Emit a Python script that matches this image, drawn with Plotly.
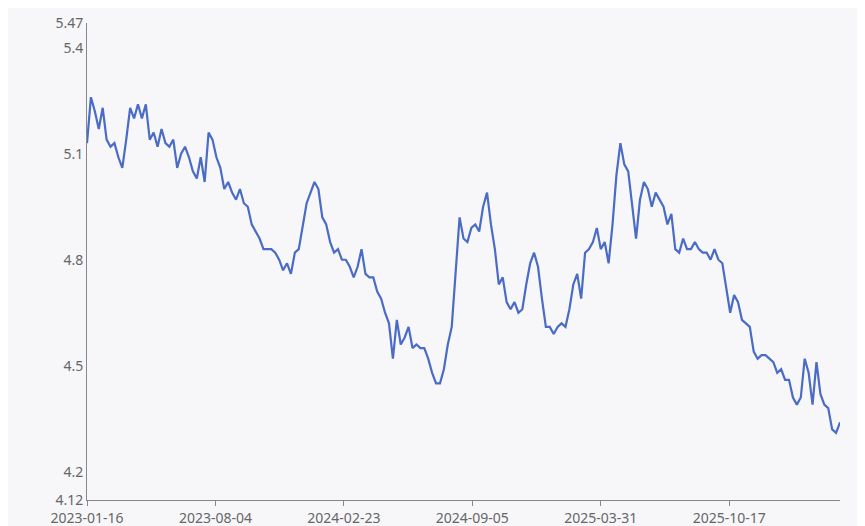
import plotly.graph_objects as go

tick_labels = ["2023-01-16", "2023-08-04", "2024-02-23", "2024-09-05", "2025-03-31", "2025-10-17"]
tick_index = [0, 32.75, 65.5, 98.25, 131, 163.75]
y_ticks = [4.12, 4.2, 4.5, 4.8, 5.1, 5.4, 5.47]

values = [
    5.13, 5.26, 5.22, 5.17, 5.23, 5.14, 5.12, 5.13, 5.09, 5.06,
    5.14, 5.23, 5.20, 5.24, 5.20, 5.24, 5.14, 5.16, 5.12, 5.17,
    5.13, 5.12, 5.14, 5.06, 5.10, 5.12, 5.09, 5.05, 5.03, 5.09,
    5.02, 5.16, 5.14, 5.09, 5.06, 5.00, 5.02, 4.99, 4.97, 5.00,
    4.96, 4.95, 4.90, 4.88, 4.86, 4.83, 4.83, 4.83, 4.82, 4.80,
    4.77, 4.79, 4.76, 4.82, 4.83, 4.89, 4.96, 4.99, 5.02, 5.00,
    4.92, 4.90, 4.85, 4.82, 4.83, 4.80, 4.80, 4.78, 4.75, 4.78,
    4.83, 4.76, 4.75, 4.75, 4.71, 4.69, 4.65, 4.62, 4.52, 4.63,
    4.56, 4.58, 4.61, 4.55, 4.56, 4.55, 4.55, 4.52, 4.48, 4.45,
    4.45, 4.49, 4.56, 4.61, 4.78, 4.92, 4.86, 4.85, 4.89, 4.90,
    4.88, 4.95, 4.99, 4.90, 4.83, 4.73, 4.75, 4.68, 4.66, 4.68,
    4.65, 4.66, 4.73, 4.79, 4.82, 4.78, 4.69, 4.61, 4.61, 4.59,
    4.61, 4.62, 4.61, 4.66, 4.73, 4.76, 4.69, 4.82, 4.83, 4.85,
    4.89, 4.83, 4.85, 4.79, 4.90, 5.04, 5.13, 5.07, 5.05, 4.96,
    4.86, 4.97, 5.02, 5.00, 4.95, 4.99, 4.97, 4.95, 4.90, 4.93,
    4.83, 4.82, 4.86, 4.83, 4.83, 4.85, 4.83, 4.82, 4.82, 4.80,
    4.83, 4.80, 4.79, 4.72, 4.65, 4.70, 4.68, 4.63, 4.62, 4.61,
    4.54, 4.52, 4.53, 4.53, 4.52, 4.51, 4.48, 4.49, 4.46, 4.46,
    4.41, 4.39, 4.41, 4.52, 4.48, 4.39, 4.51, 4.42, 4.39, 4.38,
    4.32, 4.31, 4.34,
]

fig = go.Figure(go.Scatter(
    x=list(range(len(values))), y=values, mode="lines",
    line=dict(color="#4a6bc6", width=2.2), hoverinfo="y",
))
fig.update_layout(
    width=865, height=526, paper_bgcolor="#f7f7f9", plot_bgcolor="#f7f7f9",
    margin=dict(l=79, r=33, t=15, b=34, autoexpand=False), showlegend=False,
    font=dict(family="Noto Sans, sans-serif", size=14, color="#666666"),
)
fig.update_xaxes(range=[0, len(values) - 1], tickvals=tick_index, ticktext=tick_labels,
                 showgrid=False, zeroline=False, showline=True, linecolor="#888888",
                 ticks="outside", ticklen=5, tickcolor="#888888", automargin=False)
fig.update_yaxes(range=[4.12, 5.47], tickvals=y_ticks, ticktext=[str(v) for v in y_ticks],
                 showgrid=False, zeroline=False, showline=True, linecolor="#888888",
                 automargin=False)
fig.write_html("out.html")
